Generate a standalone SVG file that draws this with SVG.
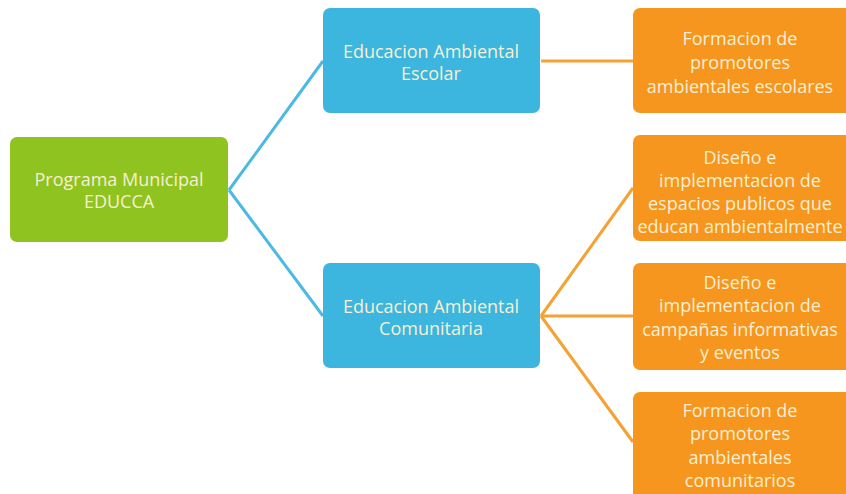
<svg xmlns="http://www.w3.org/2000/svg" width="846" height="494" viewBox="0 0 846 494">
<style>
.t{font-family:"Open Sans","Liberation Sans",sans-serif;font-size:18px;fill:#f8efd2;text-anchor:middle;dominant-baseline:central}
.g{fill:#8fc320}
.b{fill:#3cb6de}
.o{fill:#f7961e}
.cb{stroke:#4cb9e2;stroke-width:3;fill:none}
.co{stroke:#f4a233;stroke-width:3;fill:none}
</style>
<rect width="846" height="494" fill="#ffffff"/>
<g id="connectors">
<path class="cb" d="M229,190 L323,61"/>
<path class="cb" d="M229,190 L323,316"/>
<path class="co" d="M541,61 L633,61"/>
<path class="co" d="M541,316 L633,188"/>
<path class="co" d="M541,316 L633,316"/>
<path class="co" d="M541,316 L633,442"/>
</g>
<g id="n-programa">
<rect class="g" x="10" y="137" width="218" height="105" rx="7"/>
<text class="t" x="119" y="179">Programa Municipal</text>
<text class="t" x="119" y="201">EDUCCA</text>
</g>
<g id="n-escolar">
<rect class="b" x="323" y="8" width="217" height="105" rx="7"/>
<text class="t" x="431" y="51">Educacion Ambiental</text>
<text class="t" x="431" y="73">Escolar</text>
</g>
<g id="n-comunitaria">
<rect class="b" x="323" y="263" width="217" height="105" rx="7"/>
<text class="t" x="431" y="306">Educacion Ambiental</text>
<text class="t" x="431" y="328">Comunitaria</text>
</g>
<g id="n-formacion-escolares">
<rect class="o" x="633" y="8" width="220" height="105" rx="7"/>
<text class="t" x="740" y="38">Formacion de</text>
<text class="t" x="740" y="62">promotores</text>
<text class="t" x="740" y="86">ambientales escolares</text>
</g>
<g id="n-espacios">
<rect class="o" x="633" y="135" width="220" height="106" rx="7"/>
<text class="t" x="740" y="157">Diseño e</text>
<text class="t" x="740" y="180">implementacion de</text>
<text class="t" x="740" y="203">espacios publicos que</text>
<text class="t" x="740" y="226">educan ambientalmente</text>
</g>
<g id="n-campanas">
<rect class="o" x="633" y="263" width="220" height="107" rx="7"/>
<text class="t" x="740" y="282">Diseño e</text>
<text class="t" x="740" y="305">implementacion de</text>
<text class="t" x="740" y="329">campañas informativas</text>
<text class="t" x="740" y="352">y eventos</text>
</g>
<g id="n-formacion-comunitarios">
<rect class="o" x="633" y="392" width="220" height="110" rx="7"/>
<text class="t" x="740" y="410">Formacion de</text>
<text class="t" x="740" y="433">promotores</text>
<text class="t" x="740" y="457">ambientales</text>
<text class="t" x="740" y="480">comunitarios</text>
</g>
</svg>
